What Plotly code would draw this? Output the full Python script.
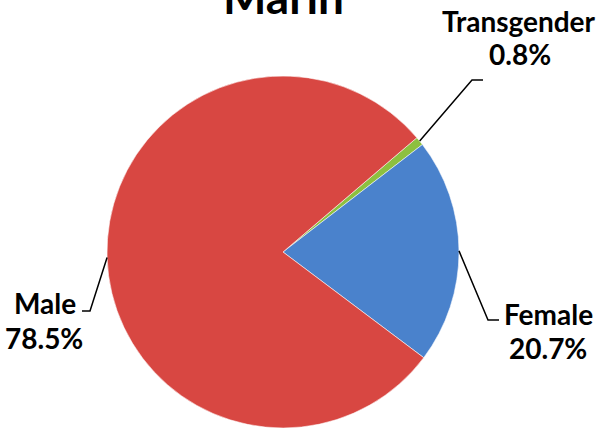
import numpy as np
import plotly.graph_objects as go

# ── Data ────────────────────────────────────────────────────────────────────
labels = ['Transgender', 'Female', 'Male']
values = [0.8, 20.7, 78.5]
colors = ['#8DC03F', '#4A82CC', '#D84742']
title_text = 'Marin'

W, H = 606, 429
CX, CY, R = 283, 252, 176          # pie centre / radius in pixels
ROTATION = 49.5                     # start angle, clockwise from 12 o'clock

FONT = 'Lato, "Open Sans", sans-serif'

fig = go.Figure(go.Pie(
    labels=labels,
    values=values,
    sort=False,
    direction='clockwise',
    rotation=ROTATION,
    marker=dict(colors=colors, line=dict(color='rgba(255,255,255,0.55)', width=1)),
    textinfo='none',
    hoverinfo='label+percent',
    domain=dict(x=[(CX - R) / W, (CX + R) / W], y=[(H - CY - R) / H, (H - CY + R) / H]),
    showlegend=False,
))

# leader lines start at each slice's mid-angle on the rim
total = sum(values)
start = ROTATION
mids = {}
for lab, v in zip(labels, values):
    span = v / total * 360
    mid_cw = start + span / 2
    ang = np.radians(90 - mid_cw)
    mids[lab] = (CX + R * np.cos(ang), CY - R * np.sin(ang))
    start += span

def px(x, y):
    return x / W, 1 - y / H

# elbow point, end of the short horizontal tick
leaders = {
    'Transgender': ((472, 80), (483, 80)),
    'Female': ((488, 320), (499, 320)),
    'Male': ((90, 311), (82, 311)),
}
for lab, (elbow, end) in leaders.items():
    sx, sy = mids[lab]
    pts = [(sx, sy), elbow, end]
    path = 'M ' + ' L '.join(f'{px(x, y)[0]},{px(x, y)[1]}' for x, y in pts)
    fig.add_shape(type='path', path=path, xref='paper', yref='paper',
                  line=dict(color='black', width=1.5))

label_pos = {
    'Transgender': [(519, 21), (520, 54)],
    'Female': [(548, 314), (548, 348)],
    'Male': [(45, 303), (44, 338)],
}
for lab, v in zip(labels, values):
    (x1, y1), (x2, y2) = label_pos[lab]
    for (x, y), txt in [((x1, y1), lab), ((x2, y2), f'{v:.1f}%')]:
        fx, fy = px(x, y)
        fig.add_annotation(x=fx, y=fy, xref='paper', yref='paper', text=f'<b>{txt}</b>',
                           showarrow=False, xanchor='center', yanchor='middle',
                           font=dict(size=28, color='black', family=FONT))

fig.add_annotation(x=CX / W, y=1 + 4 / H, xref='paper', yref='paper',
                   text=f'<b>{title_text}</b>', showarrow=False,
                   xanchor='center', yanchor='middle',
                   font=dict(size=46, color='black', family=FONT))

fig.update_layout(
    width=W, height=H,
    margin=dict(l=0, r=0, t=0, b=0),
    paper_bgcolor='white',
    plot_bgcolor='white',
)

fig.write_html('out.html', config={'displayModeBar': False},
               post_script="document.body.style.margin='0';")
